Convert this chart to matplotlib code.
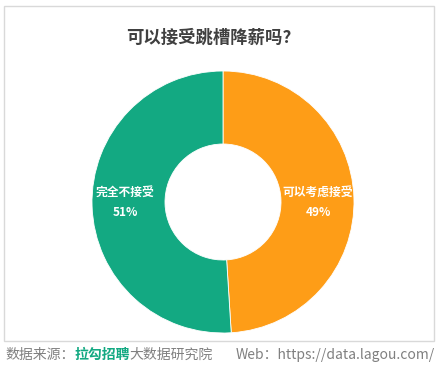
import matplotlib.pyplot as plt
from matplotlib.patches import Rectangle

plt.rcParams['font.family'] = ['Noto Sans CJK SC', 'DejaVu Sans']

# 数据
labels = ['可以考虑接受', '完全不接受']
values = [49, 51]
colors = ['#FE9D17', '#13A982']
title = '可以接受跳槽降薪吗?'

W, H = 439, 366
fig = plt.figure(figsize=(W / 100, H / 100), dpi=100)

# 外框
fig.patches.append(Rectangle((4 / W, 1 - 341 / H), 430 / W, 335 / H,
                             transform=fig.transFigure, fill=False,
                             edgecolor='#d9d9d9', linewidth=1))

fig.text(209 / W, 1 - 38 / H, title, ha='center', va='center',
         fontsize=12.5, fontweight='bold', color='#404040')

# 环形图
cx, cy, r = 223, 202, 131
ax = fig.add_axes([(cx - r) / W, 1 - (cy + r) / H, 2 * r / W, 2 * r / H])
wedges, _ = ax.pie(values, colors=colors, startangle=90, counterclock=False,
                   radius=1, wedgeprops=dict(width=1 - 58 / 131, edgecolor='white', linewidth=0.6))
ax.set_xlim(-1, 1)
ax.set_ylim(-1, 1)
ax.set_aspect('equal')
ax.axis('off')

# 标签
pos = [318, 125]
for x, lab, v in zip(pos, labels, values):
    fig.text(x / W, 1 - 192 / H, lab, ha='center', va='center',
             fontsize=8.5, fontweight='bold', color='white')
    fig.text(x / W, 1 - 212 / H, f'{v}%', ha='center', va='center',
             fontsize=8.5, fontweight='bold', color='white')

# 底部来源
fy = 1 - 355 / H
fs = 10
t1 = fig.text(5 / W, fy, '数据来源：', ha='left', va='center', fontsize=fs, color='#808080')
fig.canvas.draw()
bb = t1.get_window_extent()
t2 = fig.text(bb.x1 / fig.dpi / fig.get_figwidth(), fy, '拉勾招聘', ha='left', va='center',
              fontsize=fs, fontweight='bold', color='#13A982')
fig.canvas.draw()
bb = t2.get_window_extent()
fig.text(bb.x1 / fig.dpi / fig.get_figwidth(), fy, '大数据研究院', ha='left', va='center',
         fontsize=fs, color='#808080')
fig.text(435 / W, fy, 'Web：https://data.lagou.com/', ha='right', va='center',
         fontsize=fs, color='#808080')

fig.savefig('out.png', dpi=100)
